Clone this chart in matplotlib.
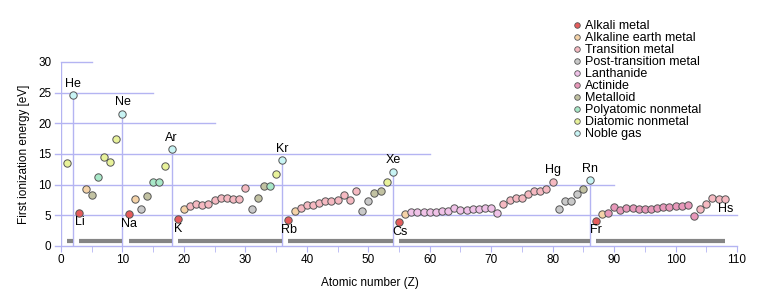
import matplotlib
matplotlib.use("Agg")
import matplotlib.pyplot as plt
from matplotlib.lines import Line2D
import numpy as np

plt.rcParams["font.family"] = ["Liberation Sans", "DejaVu Sans"]

# first ionization energy [eV], Z = 1..108
energy = [
    13.598, 24.587, 5.392, 9.323, 8.298, 11.260, 14.534, 13.618, 17.423, 21.565,
    5.139, 7.646, 5.986, 8.152, 10.487, 10.360, 12.968, 15.760, 4.341, 6.113,
    6.561, 6.828, 6.746, 6.767, 7.434, 7.902, 7.881, 7.640, 7.726, 9.394,
    5.999, 7.900, 9.789, 9.752, 11.814, 14.000, 4.177, 5.695, 6.217, 6.634,
    6.759, 7.092, 7.280, 7.361, 7.459, 8.337, 7.576, 8.994, 5.786, 7.344,
    8.608, 9.010, 10.451, 12.130, 3.894, 5.212, 5.577, 5.539, 5.473, 5.525,
    5.582, 5.644, 5.670, 6.150, 5.864, 5.939, 6.022, 6.108, 6.184, 6.254,
    5.426, 6.825, 7.550, 7.864, 7.834, 8.438, 8.967, 8.959, 9.226, 10.438,
    6.108, 7.417, 7.286, 8.417, 9.318, 10.749, 4.073, 5.278, 5.380, 6.307,
    5.890, 6.194, 6.266, 6.026, 5.974, 5.991, 6.198, 6.282, 6.420, 6.500,
    6.580, 6.650, 4.900, 6.000, 6.800, 7.800, 7.700, 7.600,
]

categories = [
    "Alkali metal", "Alkaline earth metal", "Transition metal",
    "Post-transition metal", "Lanthanide", "Actinide", "Metalloid",
    "Polyatomic nonmetal", "Diatomic nonmetal", "Noble gas",
]
cat_colors = [
    "#e65c5c", "#f5d3a8", "#f5b9c1", "#c9c9c9", "#f0c2e8",
    "#e898ba", "#c2c2a2", "#a8e8c8", "#e8f29a", "#c8f4f4",
]
cat_members = [
    [3, 11, 19, 37, 55, 87],
    [4, 12, 20, 38, 56, 88],
    list(range(21, 31)) + list(range(39, 49)) + list(range(72, 81)) + list(range(104, 109)),
    [13, 31, 49, 50, 81, 82, 83, 84],
    list(range(57, 72)),
    list(range(89, 104)),
    [5, 14, 32, 33, 51, 52, 85],
    [6, 15, 16, 34],
    [1, 7, 8, 9, 17, 35, 53],
    [2, 10, 18, 36, 54, 86],
]

# labelled elements: symbol, Z
labels_above = [("He", 2), ("Ne", 10), ("Ar", 18), ("Kr", 36), ("Xe", 54),
                ("Hg", 80), ("Rn", 86)]
labels_below = [("Li", 3), ("Na", 11), ("K", 19), ("Rb", 37), ("Cs", 55),
                ("Fr", 87), ("Hs", 108)]

# periods (first Z, last Z)
periods = [(1, 2), (3, 10), (11, 18), (19, 36), (37, 54), (55, 86), (87, 108)]

# reference lines: level, right end
ref_lines = [(0, 110), (5, 110), (10, 90), (15, 60), (20, 25), (25, 15), (30, 5)]

LAV = "#b4b4f2"
Z = np.arange(1, len(energy) + 1)
E = np.array(energy)

fig = plt.figure(figsize=(7.68, 3.07), dpi=100)
ax = fig.add_axes([61 / 768, 1 - 246 / 307, 676 / 768, 184 / 307])
ax.set_xlim(0, 110)
ax.set_ylim(0, 30)
for s in ax.spines.values():
    s.set_visible(False)

for lvl, xend in ref_lines:
    x0 = 0 if lvl == 30 else -1
    ax.plot([x0, xend], [lvl, lvl], color=LAV, lw=1, clip_on=False, zorder=1)
ax.plot([0, 0], [0, 30], color=LAV, lw=1, zorder=1)

# noble gas drop lines
for z in cat_members[-1]:
    ax.plot([z, z], [0, E[z - 1]], color=LAV, lw=1, zorder=1)

for a, b in periods:
    ax.plot([a, b], [0.8, 0.8], color="#858585", lw=3, solid_capstyle="butt", zorder=2)

for name, col, members in zip(categories, cat_colors, cat_members):
    idx = np.array(members) - 1
    ax.plot(Z[idx], E[idx], "o", ms=5.3, mfc=col, mec="#555555", mew=0.7,
            ls="none", zorder=3)

for sym, z in labels_above:
    ax.annotate(sym, (z, E[z - 1]), xytext=(0, 4), textcoords="offset points",
                ha="center", va="bottom", fontsize=9)
for sym, z in labels_below:
    ax.annotate(sym, (z, E[z - 1]), xytext=(0.5, -2.5), textcoords="offset points",
                ha="center", va="top", fontsize=9)

ax.set_xticks(np.arange(0, 111, 10))
ax.set_xticks(np.arange(0, 111, 5), minor=True)
ax.set_yticks(np.arange(0, 31, 5))
ax.tick_params(axis="x", which="both", length=4, color=LAV, labelsize=8.5, pad=2)
ax.tick_params(axis="y", length=0, labelsize=8.5, pad=7)
ax.set_ylabel("First ionization energy [eV]", fontsize=8.5, labelpad=6)
fig.text(370 / 768, 1 - 283 / 307, "Atomic number (Z)", fontsize=8.5,
         ha="center", va="center")

handles = [Line2D([], [], marker="o", ls="none", ms=4, mfc=c, mec="#555555", mew=0.6)
           for c in cat_colors]
fig.legend(handles, categories, loc="upper left", bbox_to_anchor=(571 / 768, 1 - 20 / 307),
           frameon=False, fontsize=9, labelspacing=0.0, handletextpad=0.2,
           handlelength=0.9, borderpad=0, borderaxespad=0)

fig.savefig("out.png", dpi=100)
